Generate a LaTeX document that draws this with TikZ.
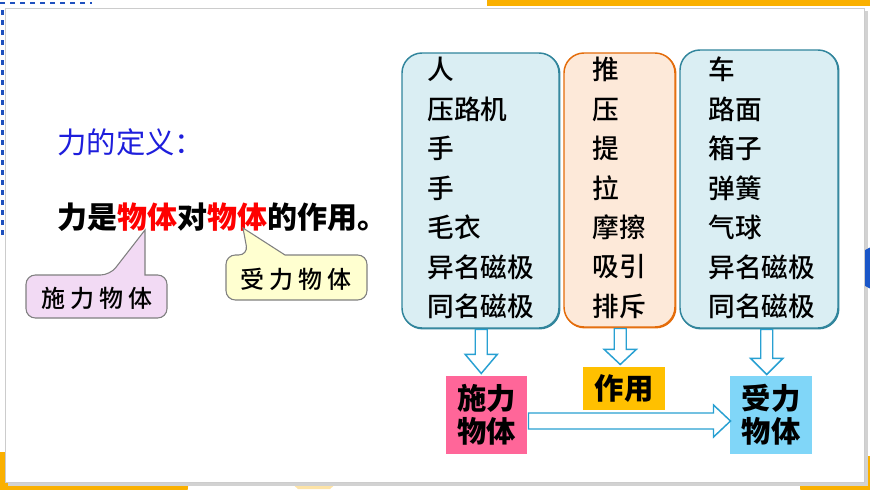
\documentclass[tikz,border=0pt]{standalone}
\usepackage{fontspec}
\setmainfont{Noto Sans CJK SC}
\newfontfamily\cjkmedium{Noto Sans CJK SC Medium}

\definecolor{decoorange}{RGB}{250,176,0}
\definecolor{dotblue}{RGB}{26,86,200}
\definecolor{dashblue}{RGB}{30,80,190}
\definecolor{titleblue}{RGB}{30,30,220}
\definecolor{listfill}{RGB}{218,238,243}
\definecolor{listedge}{RGB}{49,133,156}
\definecolor{actfill}{RGB}{253,233,217}
\definecolor{actedge}{RGB}{228,108,10}
\definecolor{arrowblue}{RGB}{40,160,210}
\definecolor{giverpink}{RGB}{255,102,153}
\definecolor{actyellow}{RGB}{255,192,0}
\definecolor{receiverblue}{RGB}{128,214,248}
\definecolor{calloutlilac}{RGB}{242,218,244}
\definecolor{calloutcream}{RGB}{255,255,208}

\tikzset{every picture/.style={line width=0.75pt}}
\tikzset{
  listbox/.style={draw=listedge, fill=listfill, line width=1.1pt, rounded corners=15pt, inner sep=0pt},
  actbox/.style={draw=actedge, fill=actfill, line width=1.1pt, rounded corners=15pt, inner sep=0pt},
  listtext/.style={align=left, inner sep=0pt, font=\fontsize{20}{29.6}\selectfont\cjkmedium},
  hollow/.style={draw=arrowblue, fill=white, line width=1.1pt, line join=miter},
  tagbox/.style={inner sep=0pt, align=center, font=\fontsize{22}{25}\selectfont\bfseries},
  callout/.style={draw=gray, line width=0.8pt},
}

\newcommand{\downblock}[3]{%
  \draw [hollow] (#1) ++(-6,0) -- ++(0,#2) -- ++(-10,0) -- ++(16,#3) -- ++(16,-#3) -- ++(-10,0) -- ++(0,-#2) -- cycle ;}

\begin{document}
\begin{tikzpicture}[x=0.75pt,y=0.75pt,yscale=-1,xscale=1]
\useasboundingbox (0,0) rectangle (870,489);

%Shape: corner decorations
\fill [decoorange, rounded corners=10] (-20,452) rectangle (188,500) ;
\fill [decoorange, rounded corners=10] (800,456) rectangle (890,500) ;
\fill [decoorange!35] (290,482) -- (338,482) -- (330,489) -- (298,489) -- cycle ;
\fill [decoorange] (487,0) rectangle (870,6) ;
%Shape: frame shadow
\fill [gray!35] (8,11) rectangle (868,486) ;
%Shape: Circle
\fill [dotblue] (878,268) circle (22) ;
%Shape: frame
\draw [draw=gray!40, fill=white] (5,8) rectangle (864,482) ;
%Straight Lines
\draw [dashblue, line width=2pt, dash pattern=on 4pt off 3.5pt] (0,3) -- (92,3) ;
\draw [dashblue, line width=2pt, dash pattern=on 4pt off 3.5pt] (2.5,10) -- (2.5,238) ;

% Text Node
\draw (57,142) node [anchor=west][inner sep=0pt] [color=titleblue, font=\fontsize{22}{26}\selectfont] (title) {力的定义：};
% Text Node
\draw (57,217) node [anchor=west][inner sep=0pt] [font=\fontsize{22.5}{27}\selectfont\bfseries] (definition) {力是\textcolor{red}{物体}对\textcolor{red}{物体}的作用。};

%Shape: callout giver
\draw [callout, fill=calloutlilac] (26,275) [rounded corners=7] -- (110,275) [sharp corners] -- (145,230) -- (145,275) [rounded corners=7] -- (167,275) -- (167,318) -- (26,318) -- cycle ;
% Text Node
\draw (97,298) node [inner sep=0pt] [font=\fontsize{18}{22}\selectfont\cjkmedium] (giverlabel) {施\hspace{4pt}力\hspace{4pt}物\hspace{4pt}体};
%Shape: callout receiver
\draw [callout, fill=calloutcream] (226,255) [rounded corners=7] -- (248,255) [sharp corners] -- (243,228) -- (285,255) [rounded corners=7] -- (367,255) -- (367,300) -- (226,300) -- cycle ;
% Text Node
\draw (296,279) node [inner sep=0pt] [font=\fontsize{18}{22}\selectfont\cjkmedium] (receiverlabel) {受\hspace{4pt}力\hspace{4pt}物\hspace{4pt}体};

%Block arrows (drawn under the boxes)
\draw (402,53) node [listbox, anchor=north west, minimum width=117.75pt, minimum height=206.25pt] (giverbox) {};
\draw (564,53) node [actbox, anchor=north west, minimum width=83.25pt, minimum height=205.5pt] (actionbox) {};
\draw (680,50) node [listbox, anchor=north west, minimum width=118.5pt, minimum height=208.5pt] (receiverbox) {};
\downblock{giverbox.south}{25}{19}
\downblock{actionbox.south}{21}{15}
\downblock{[xshift=5.25pt]receiverbox.south}{29}{16}
\draw [listbox] (402,53) rectangle (559,328) ;
\draw [actbox] (564,53) rectangle (675,327) ;
\draw [listbox] (680,50) rectangle (838,328) ;

% Text Node
\draw (427,188) node [anchor=west] [listtext] (givers) {人\\压路机\\手\\手\\毛衣\\异名磁极\\同名磁极};
% Text Node
\draw (592,188) node [anchor=west] [listtext] (actions) {推\\压\\提\\拉\\摩擦\\吸引\\排斥};
% Text Node
\draw (708,188) node [anchor=west] [listtext] (receivers) {车\\路面\\箱子\\弹簧\\气球\\异名磁极\\同名磁极};

% Text Node
\draw (486.5,415) node [tagbox, fill=giverpink, minimum width=60.75pt, minimum height=58.5pt] (giver) {施力\\物体};
% Text Node
\draw (624,388.5) node [tagbox, fill=actyellow, minimum width=61.5pt, minimum height=32.25pt] (action) {作用};
% Text Node
\draw (771,415) node [tagbox, fill=receiverblue, minimum width=61.5pt, minimum height=58.5pt] (receiver) {受力\\物体};

%Block arrow giver -> receiver
\draw [hollow] (giver.east) ++(1,-2) -- ++(185,0) -- ++(0,-8) -- ++(17,16) -- ++(-17,16) -- ++(0,-8) -- ++(-185,0) -- cycle ;

\end{tikzpicture}
\end{document}
